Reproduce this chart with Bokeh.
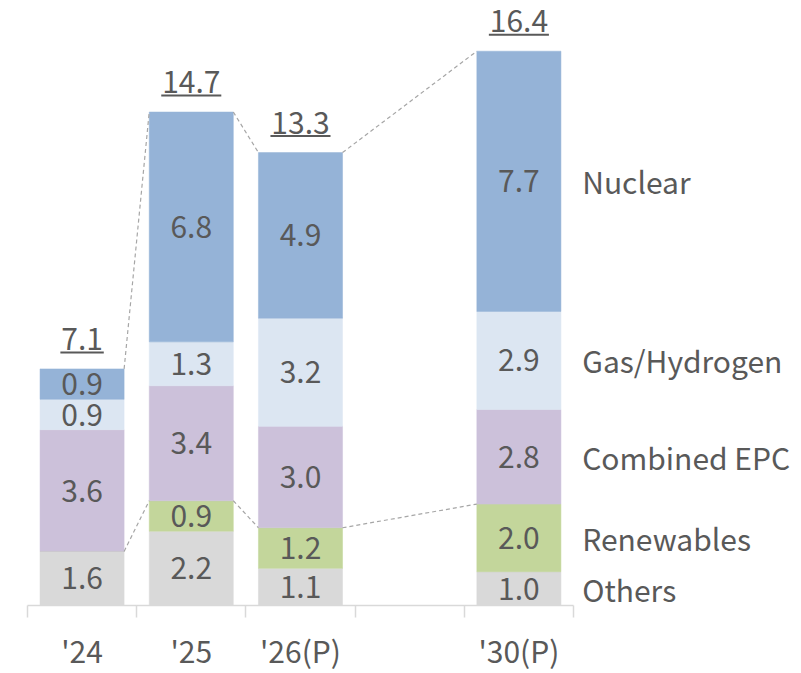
from bokeh.plotting import figure
from bokeh.models import Range1d, FixedTicker, ColumnDataSource
from bokeh.core.properties import value
from bokeh.embed import file_html
from bokeh.resources import INLINE

# ---------------- data ----------------
categories = ["'24", "'25", "'26(P)", "'30(P)"]
series_names = ["Others", "Renewables", "Combined EPC", "Gas/Hydrogen", "Nuclear"]
others = [1.6, 2.2, 1.1, 1.0]
renewables = [0.0, 0.9, 1.2, 2.0]
combined_epc = [3.6, 3.4, 3.0, 2.8]
gas_hydrogen = [0.9, 1.3, 3.2, 2.9]
nuclear = [0.9, 6.8, 4.9, 7.7]
totals = [7.1, 14.7, 13.3, 16.4]

# ---------------- style ----------------
colors = ["#D9D9D9", "#C3D69B", "#CCC1DA", "#DCE6F2", "#95B3D7"]
text_color = "#595959"
font = value("Noto Sans CJK KR")
fs_px = 30
fs = f"{fs_px}px"
bar_w = 0.77
W, H = 801, 673
baseline_px = 605          # distance from top of frame to the zero line
px_per_y = 33.8
x_start, x_end = -0.747, 6.588
px_per_x = W / (x_end - x_start)

# slot positions (a blank slot between '26(P) and '30(P))
slots = [i if i < 3 else i + 1 for i in range(len(categories))]

series = [others, renewables, combined_epc, gas_hydrogen, nuclear]

p = figure(width=W, height=H, x_range=Range1d(x_start, x_end),
           y_range=Range1d(-(H - baseline_px) / px_per_y, baseline_px / px_per_y),
           output_backend="svg", toolbar_location=None, y_axis_location=None,
           min_border_left=0, min_border_right=0, min_border_top=0, min_border_bottom=0)
p.outline_line_color = None
p.grid.visible = False
p.background_fill_color = "white"
p.border_fill_color = "white"

# stacked bars
bottoms = [0.0] * len(categories)
seg_x, seg_y, seg_t = [], [], []
for vals, col in zip(series, colors):
    tops = [b + v for b, v in zip(bottoms, vals)]
    src = ColumnDataSource(dict(x=slots, bottom=bottoms, top=tops))
    p.vbar(x="x", bottom="bottom", top="top", width=bar_w, source=src,
           fill_color=col, line_color=col, line_width=0.5)
    for s, b, v in zip(slots, bottoms, vals):
        if v > 0:
            seg_x.append(s)
            seg_y.append(b + v / 2)
            seg_t.append(f"{v:.1f}")
    bottoms = tops
stack_tops = bottoms

p.text(x=seg_x, y=seg_y, text=seg_t, text_font=font, text_font_size=fs,
       text_color=text_color, text_align="center", text_baseline="middle")

# connectors (dashed)
ren_tops = [o + r for o, r in zip(others, renewables)]
xs, ys = [], []
for i in range(len(categories) - 1):
    for lvl in (stack_tops, ren_tops):
        xs.append([slots[i] + bar_w / 2, slots[i + 1] - bar_w / 2])
        ys.append([lvl[i], lvl[i + 1]])
p.multi_line(xs=xs, ys=ys, line_color="#A6A6A6", line_width=1.2, line_dash="4 3")

# totals (underlined)
tot_t = [f"{t:.1f}" for t in totals]
tot_y = [t + 30 / px_per_y for t in stack_tops]
p.text(x=slots, y=tot_y, text=tot_t, text_font=font, text_font_size=fs,
       text_color=text_color, text_align="center", text_baseline="middle")
ul_x0, ul_x1, ul_y = [], [], []
for s, t, top in zip(slots, tot_t, stack_tops):
    wpx = sum(0.27 if ch == "." else 0.555 for ch in t) * fs_px + 2
    ul_x0.append(s - wpx / 2 / px_per_x)
    ul_x1.append(s + wpx / 2 / px_per_x)
    ul_y.append(top + 16.5 / px_per_y)
p.segment(x0=ul_x0, y0=ul_y, x1=ul_x1, y1=ul_y, line_color=text_color, line_width=2)

# series labels at right, aligned with the last bar's segments
last = len(categories) - 1
lab_y, b = [], 0.0
for vals in series:
    lab_y.append(b + vals[last] / 2)
    b += vals[last]
p.text(x=[slots[last] + 0.58] * len(series_names), y=lab_y, text=series_names,
       text_font=font, text_font_size=fs, text_color=text_color,
       text_align="left", text_baseline="middle")

# x axis at zero: labels at bar slots, separator ticks between slots
ax = p.xaxis[0]
ax.fixed_location = 0
ax.ticker = FixedTicker(ticks=slots, minor_ticks=[x - 0.5 for x in range(slots[-1] + 2)])
ax.major_label_overrides = {s: c for s, c in zip(slots, categories)}
ax.bounds = (-0.5, slots[-1] + 0.5)
ax.axis_line_color = "#D9D9D9"
ax.axis_line_width = 1.5
ax.major_tick_line_color = None
ax.major_tick_out = 0
ax.major_tick_in = 0
ax.minor_tick_line_color = "#D9D9D9"
ax.minor_tick_line_width = 1.5
ax.minor_tick_out = 12
ax.minor_tick_in = 0
ax.major_label_text_font = "Noto Sans CJK KR"
ax.major_label_text_font_size = fs
ax.major_label_text_color = text_color
ax.major_label_standoff = 10

open("out.html", "w").write(file_html(p, INLINE))
